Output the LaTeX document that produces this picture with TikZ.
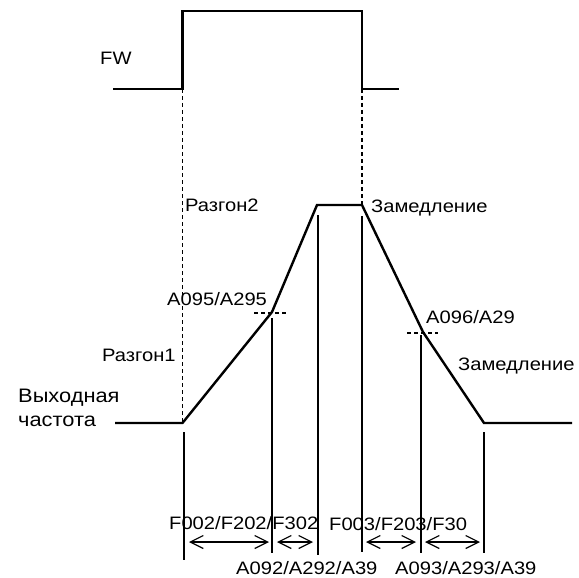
\documentclass[tikz,border=0pt]{standalone}
\usepackage{fontspec}
\setmainfont[FakeStretch=1.12]{Liberation Sans}
\usetikzlibrary{arrows.meta}
\begin{document}
\begin{tikzpicture}[x=1pt,y=-1pt,
  sig/.style={line width=2.4pt, line join=miter},
  guide/.style={line width=1.1pt, dash pattern=on 4pt off 3pt},
  vline/.style={line width=1.3pt},
  dim/.style={line width=1.2pt, {Straight Barb[length=13pt,width=13pt,line width=1.2pt]}-{Straight Barb[length=13pt,width=13pt,line width=1.2pt]}},
  lbl/.style={inner sep=0pt, anchor=base west, font=\fontsize{18}{21}\selectfont},
  biglbl/.style={inner sep=0pt, anchor=base west, font=\fontsize{19.5}{23}\selectfont}
]
\useasboundingbox (0,0) rectangle (579,578);

% FW signal
\coordinate (fw0) at (113,89);
\coordinate (fw1) at (182.5,89);
\coordinate (fw2) at (182.5,11);
\coordinate (fw3) at (362,11);
\coordinate (fw4) at (362,89);
\coordinate (fw5) at (399,89);
\draw[sig] (fw0) -- (fw1) -- (fw2) -- (fw3) -- (fw4) -- (fw5);

% output frequency
\coordinate (f0) at (115,423);
\coordinate (f1) at (182.5,423);
\coordinate (f2) at (272,312);
\coordinate (f3) at (317,205);
\coordinate (f4) at (362,205);
\coordinate (f5) at (423,332);
\coordinate (f6) at (484,423);
\coordinate (f7) at (572,423);
\draw[sig] (f0) -- (f1) -- (f2) -- (f3) -- (f4) -- (f5) -- (f6) -- (f7);

% dashed guides
\draw[guide] (fw1) -- (f1);
\draw[guide] (fw4) -- (f4);
\coordinate (h1a) at (254,313); \coordinate (h1b) at (287,313);
\coordinate (h2a) at (407,333); \coordinate (h2b) at (438,333);
\draw[guide] (h1a) -- (h1b);
\draw[guide] (h2a) -- (h2b);

% vertical marker lines
\coordinate (v1t) at (184,432); \coordinate (v1b) at (184,560);
\coordinate (v2t) at (272,318); \coordinate (v2b) at (272,553);
\coordinate (v3t) at (318,215); \coordinate (v3b) at (318,555);
\coordinate (v4t) at (362,216); \coordinate (v4b) at (362,552);
\coordinate (v5t) at (421,335); \coordinate (v5b) at (421,553);
\coordinate (v6t) at (484,432); \coordinate (v6b) at (484,553);
\foreach \i in {1,...,6} \draw[vline] (v\i t) -- (v\i b);

% dimension arrows
\coordinate (a1l) at (189,542); \coordinate (a1r) at (269,542);
\coordinate (a2l) at (277,542); \coordinate (a2r) at (313,542);
\coordinate (a3l) at (366,542); \coordinate (a3r) at (416,542);
\coordinate (a4l) at (425,542); \coordinate (a4r) at (480,542);
\draw[dim] (a1l) -- (a1r);
\draw[dim] (a2l) -- (a2r);
\draw[dim] (a3l) -- (a3r);
\draw[dim] (a4l) -- (a4r);

% labels
\node[lbl] (tfw) at (100,65) {FW};
\node[lbl] (tr2) at (185,211.5) {Разгон2};
\node[lbl] (ta95) at (167,305) {A095/A295};
\node[lbl] (tr1) at (102,361.5) {Разгон1};
\node[lbl] (tz1) at (371,212.5) {Замедление};
\node[lbl] (ta96) at (426,323.5) {A096/A29};
\node[lbl] (tz2) at (458,370.5) {Замедление};
\node[biglbl] (tout1) at (18,402.7) {Выходная};
\node[biglbl] (tout2) at (18,426.7) {частота};
\node[lbl] (tf2) at (169,529) {F002/F202/F302};
\node[lbl] (tf3) at (329,530) {F003/F203/F30};
\node[lbl] (ta92) at (236,574) {A092/A292/A39};
\node[lbl] (ta93) at (395,574) {A093/A293/A39};
\end{tikzpicture}
\end{document}
